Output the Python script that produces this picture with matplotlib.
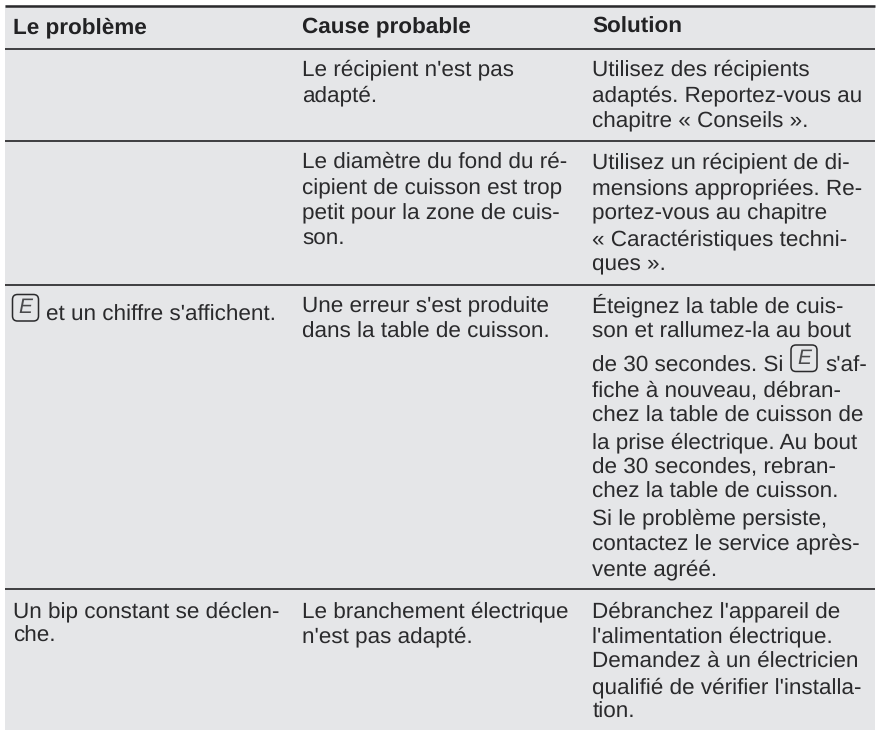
import matplotlib
matplotlib.use("Agg")
import matplotlib.pyplot as plt
from matplotlib.patches import FancyBboxPatch, Rectangle

plt.rcParams['font.family'] = ['Liberation Sans', 'DejaVu Sans']
plt.rcParams['text.hinting'] = 'none'

W, H = 879, 730
BG = '#e5e6e8'
INK = '#2a2a2c'

headers = ["Le problème", "Cause probable", "Solution"]
header_x = [13, 302.5, 592.5]
header_baseline = 33
rule_y = [48.5, 141, 284.5, 589]

problem_lines = [
    (46, 321, "et un chiffre s'affichent."),
    (13, 617, "Un bip constant se déclen-"),
    (13, 642, "che."),
]
cause_lines = [
    "Le récipient n'est pas", "adapté.",
    "Le diamètre du fond du ré-", "cipient de cuisson est trop", "petit pour la zone de cuis-", "son.",
    "Une erreur s'est produite", "dans la table de cuisson.",
    "Le branchement électrique", "n'est pas adapté.",
]
cause_y = [75, 101, 168, 194, 219, 245, 312, 338, 617, 642]
solution_lines = [
    "Utilisez des récipients", "adaptés. Reportez-vous au", "chapitre « Conseils ».",
    "Utilisez un récipient de di-", "mensions appropriées. Re-", "portez-vous au chapitre",
    "« Caractéristiques techni-", "ques ».",
    "Éteignez la table de cuis-", "son et rallumez-la au bout",
    "de 30 secondes. Si", "fiche à nouveau, débran-", "chez la table de cuisson de",
    "la prise électrique. Au bout", "de 30 secondes, rebran-", "chez la table de cuisson.",
    "Si le problème persiste,", "contactez le service après-", "vente agréé.",
    "Débranchez l'appareil de", "l'alimentation électrique.", "Demandez à un électricien", "qualifié de vérifier l'installa-", "tion.",
]
solution_y = [75, 101, 127, 168, 194, 219, 245, 270, 312, 338, 372, 397, 422, 448, 473, 498, 524, 549, 575,
              617, 642, 667, 693, 718]

fig = plt.figure(figsize=(W / 100, H / 100), dpi=100, facecolor='white')
ax = fig.add_axes([0, 0, 1, 1])
ax.set_xlim(0, W)
ax.set_ylim(H, 0)
ax.axis('off')

ax.add_patch(Rectangle((5, 5), 870, 725, fc=BG, ec='none', zorder=0))
ax.plot([5, 875], [5.5, 5.5], color=INK, lw=1.8, solid_capstyle='butt')
for y in rule_y:
    ax.plot([5, 875], [y, y], color=INK, lw=1.25, solid_capstyle='butt')

FS = 16.2
for x, t in zip(header_x, headers):
    ax.text(x, header_baseline, t, fontsize=FS, fontweight='bold', color='#222224', va='baseline')
for x, y, t in problem_lines:
    ax.text(x, y, t, fontsize=FS, color=INK, va='baseline')
for y, t in zip(cause_y, cause_lines):
    ax.text(302.5, y, t, fontsize=FS, color=INK, va='baseline')
for y, t in zip(solution_y, solution_lines):
    ax.text(592.5, y, t, fontsize=FS, color=INK, va='baseline')
ax.text(825, 372, "s'af-", fontsize=FS, color=INK, va='baseline')


def key(x, y):
    ax.add_patch(FancyBboxPatch((x, y), 26, 26.5, boxstyle='round,pad=0,rounding_size=5',
                                fc='none', ec=INK, lw=1.1))
    ax.text(x + 13, y + 13.5, "E", fontsize=15, fontstyle='italic', color='#4a4a4c',
            ha='center', va='center')


key(12.5, 294.5)
key(791, 345)
fig.savefig('out.png', dpi=100, facecolor='white')
